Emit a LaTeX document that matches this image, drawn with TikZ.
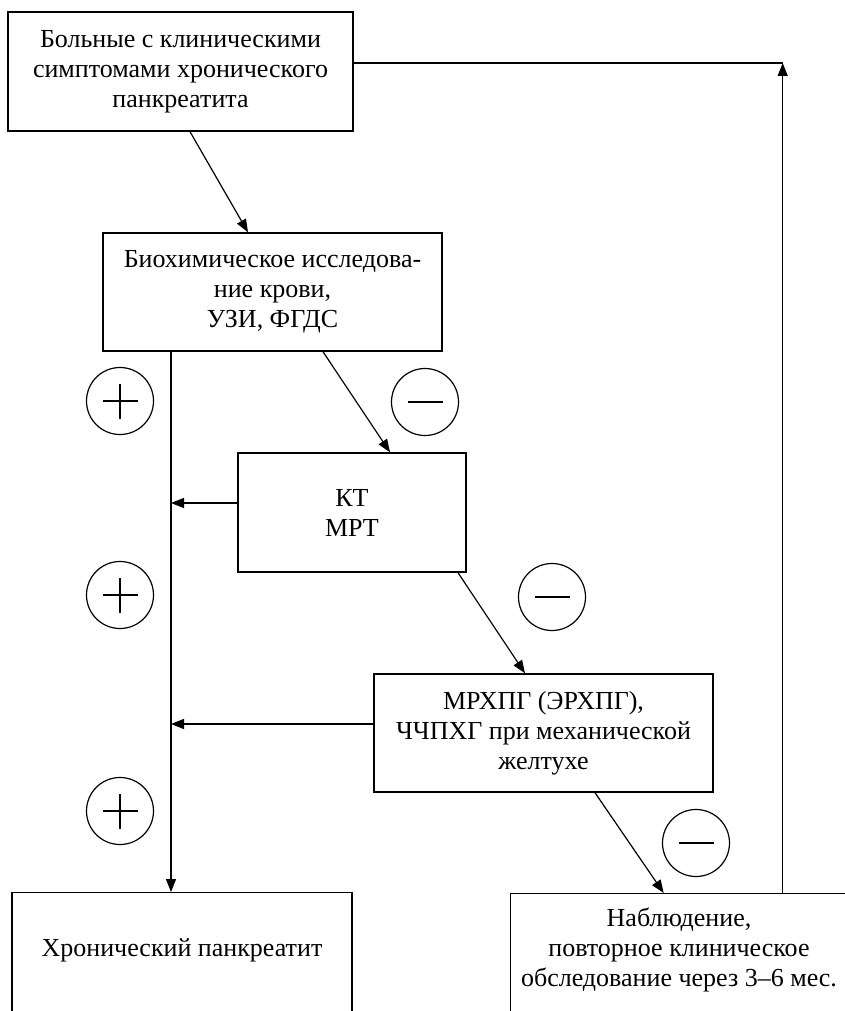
\documentclass[tikz,border=0pt]{standalone}
\usepackage{fontspec}
\setmainfont{Liberation Serif}
\usetikzlibrary{arrows.meta,calc}
\tikzset{
  box/.style={draw, line width=1.4pt, inner sep=0pt, align=center},
  txt/.style={inner sep=0pt, align=center},
  conn/.style={line width=1.2pt},
  arr/.style={conn, -{Triangle[length=13pt,width=10pt]}},
  sign/.style={draw, circle, line width=1.2pt, minimum size=67pt, inner sep=0pt},
}
\newcommand{\bigfont}{\fontsize{26}{30}\selectfont}
\begin{document}
\begin{tikzpicture}[x=1pt,y=-1pt,font=\bigfont]
\path[use as bounding box] (0,0) rectangle (845,1011);
\clip (0,0) rectangle (845,1011);
% boxes
\node[box, minimum width=345pt, minimum height=119pt] (box1) at (180.5,71.5)
  {Больные с клиническими\\симптомами хронического\\панкреатита};
\node[box, minimum width=339pt, minimum height=118pt] (box2) at (272.5,292)
  {Биохимическое исследова-\\ние крови,\\УЗИ, ФГДС};
\node[box, minimum width=228pt, minimum height=119pt] (box3) at (352,512.5)
  {КТ\\МРТ};
\node[box, minimum width=339pt, minimum height=118pt] (box4) at (543.5,733)
  {МРХПГ (ЭРХПГ),\\ЧЧПХГ при механической\\желтухе};
\node[box, minimum width=340pt, minimum height=140pt, anchor=north] (box5) at (182,892) {};
\node[txt] (box5text) at (182,950) {Хронический панкреатит};
\node[box, minimum width=345pt, minimum height=140pt, anchor=north west] (box6) at (510,893) {};
\node[txt] (box6text) at (679,950) {Наблюдение,\\повторное клиническое\\обследование через 3–6 мес.};
% signs
\foreach \n/\x/\y in {p1/120/401, p2/120/595, p3/120/811} {
  \node[sign] (\n) at (\x,\y) {};
  \draw[conn] ([xshift=-17.5pt]\n.center) -- ([xshift=17.5pt]\n.center);
  \draw[conn] ([yshift=-17.5pt]\n.center) -- ([yshift=17.5pt]\n.center);
}
\foreach \n/\x/\y in {m1/425/402, m2/552/597, m3/696/843} {
  \node[sign] (\n) at (\x,\y) {};
  \draw[conn] ([xshift=-17.5pt]\n.center) -- ([xshift=17.5pt]\n.center);
}
% connectors
\draw[arr] ([xshift=9.5pt]box1.south) -- ([xshift=-24.5pt]box2.north);
\draw[arr] ([xshift=50.5pt]box2.south) -- ([xshift=38pt]box3.north);
\draw[arr] ([xshift=106pt]box3.south) -- ([xshift=-18.5pt]box4.north);
\draw[arr] ([xshift=51.5pt]box4.south) -- ([xshift=-19.5pt]box6.north);
\coordinate (trunk) at ([xshift=-101.5pt]box2.south);
\draw[arr] (trunk) -- (trunk |- box5.north);
\coordinate (b3out) at ([yshift=9.5pt]box3.west);
\coordinate (b4out) at ([yshift=9pt]box4.west);
\draw[arr] (b3out) -- (trunk |- b3out);
\draw[arr] (b4out) -- (trunk |- b4out);
\coordinate (b1out) at ([yshift=8.5pt]box1.east);
\coordinate (corner) at ([xshift=429pt]b1out);
\draw[conn] (b1out) -- (corner);
\draw[arr] (corner |- box6.north) -- (corner);
\end{tikzpicture}
\end{document}
